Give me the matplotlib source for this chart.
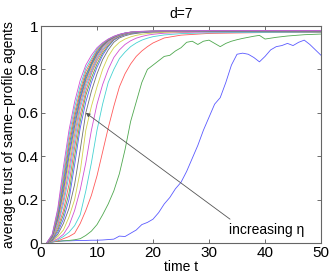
import matplotlib
matplotlib.use("Agg")
import matplotlib.pyplot as plt

plt.rcParams['font.family'] = ['Liberation Sans', 'DejaVu Sans']

# time axes
t_full = list(range(1, 51))
t_grid = [1, 2, 3, 4, 5, 6, 7, 8, 9, 10, 11, 12, 13, 14, 15, 16, 17, 18, 19, 20, 22, 25, 30, 40, 50]

# slowest two curves (noisy), sampled every time step
eta1 = [0.0, 0.005, 0.008, 0.01, 0.01, 0.011, 0.012, 0.012, 0.013, 0.013,
        0.014, 0.016, 0.018, 0.032, 0.03, 0.045, 0.06, 0.085, 0.095, 0.11,
        0.14, 0.18, 0.21, 0.25, 0.28, 0.33, 0.39, 0.45, 0.52, 0.58,
        0.64, 0.67, 0.74, 0.82, 0.87, 0.875, 0.87, 0.855, 0.835, 0.86,
        0.89, 0.905, 0.91, 0.92, 0.91, 0.925, 0.935, 0.915, 0.89, 0.865]
eta2 = [0.0, 0.005, 0.008, 0.01, 0.012, 0.015, 0.02, 0.035, 0.055, 0.085,
        0.13, 0.18, 0.24, 0.32, 0.43, 0.56, 0.65, 0.74, 0.80, 0.82,
        0.84, 0.86, 0.865, 0.885, 0.90, 0.925, 0.93, 0.915, 0.93, 0.935,
        0.92, 0.905, 0.92, 0.93, 0.937, 0.943, 0.948, 0.953, 0.957, 0.94,
        0.944, 0.948, 0.951, 0.954, 0.956, 0.958, 0.96, 0.961, 0.962, 0.963]

# faster curves, sampled on t_grid
eta3 = [0, .005, .01, .02, .03, .045, .09, .15, .22, .31, .42, .53, .63, .72, .78, .825, .86, .885, .905, .922, .945, .958, .966, .97, .97]
eta4 = [0, .005, .015, .03, .05, .08, .13, .24, .37, .52, .64, .74, .80, .85, .88, .905, .922, .935, .944, .951, .959, .965, .969, .971, .972]
eta5 = [0, .008, .02, .04, .08, .15, .245, .37, .52, .64, .73, .80, .855, .89, .915, .932, .944, .952, .958, .962, .967, .97, .973, .974, .974]
eta6 = [0, .01, .03, .06, .12, .20, .33, .52, .63, .72, .80, .86, .90, .925, .94, .95, .957, .962, .965, .968, .971, .973, .975, .975, .975]
eta7 = [0, .012, .04, .09, .16, .27, .43, .60, .70, .78, .845, .89, .925, .945, .955, .962, .966, .969, .971, .972, .974, .975, .976, .976, .976]
eta8 = [0, .015, .05, .11, .20, .36, .53, .65, .74, .81, .865, .905, .935, .95, .96, .966, .969, .971, .973, .974, .975, .976, .977, .977, .977]
eta9 = [0, .017, .06, .13, .23, .40, .56, .68, .76, .825, .875, .91, .938, .952, .962, .967, .97, .972, .974, .975, .976, .976, .977, .977, .977]
eta10 = [0, .019, .07, .15, .27, .44, .59, .70, .78, .84, .885, .917, .94, .954, .963, .968, .971, .973, .974, .975, .976, .977, .977, .977, .977]
eta11 = [0, .021, .08, .18, .31, .47, .62, .72, .79, .85, .893, .922, .943, .956, .964, .969, .971, .973, .975, .975, .976, .977, .978, .978, .978]
eta12 = [0, .023, .09, .20, .34, .50, .64, .735, .80, .858, .90, .926, .945, .957, .965, .97, .972, .974, .975, .976, .977, .977, .978, .978, .978]
eta13 = [0, .025, .10, .22, .37, .52, .655, .745, .81, .865, .905, .93, .947, .958, .966, .97, .972, .974, .975, .976, .977, .977, .978, .978, .978]
eta14 = [0, .027, .11, .24, .40, .54, .665, .755, .82, .87, .908, .932, .948, .959, .966, .971, .973, .974, .975, .976, .977, .978, .978, .978, .978]
eta15 = [0, .03, .12, .26, .42, .56, .675, .765, .825, .875, .911, .934, .949, .96, .967, .971, .973, .974, .975, .976, .977, .978, .978, .978, .978]
eta16 = [0, .033, .13, .28, .445, .58, .69, .775, .83, .882, .914, .936, .95, .96, .967, .971, .973, .975, .976, .976, .977, .978, .978, .978, .978]
eta17 = [0, .035, .14, .30, .47, .60, .705, .79, .84, .888, .917, .937, .951, .961, .967, .972, .974, .975, .976, .977, .977, .978, .979, .979, .979]
eta18 = [0, .038, .15, .32, .495, .625, .725, .805, .85, .894, .92, .939, .952, .961, .968, .972, .974, .975, .976, .977, .978, .978, .979, .979, .979]
eta19 = [0, .04, .16, .35, .52, .65, .75, .82, .865, .90, .923, .94, .953, .962, .968, .972, .974, .976, .976, .977, .978, .978, .979, .979, .979]

grid_series = [eta3, eta4, eta5, eta6, eta7, eta8, eta9, eta10, eta11, eta12,
               eta13, eta14, eta15, eta16, eta17, eta18, eta19]

# MATLAB-like colour order, as it looks on thin anti-aliased lines
line_colors = ['#5a5aff', '#4fa84f', '#ff5a5a', '#45d2d2',
               '#d24fd2', '#d2d24a', '#707070']

xticks = [0, 10, 20, 30, 40, 50]
yticks = [0, 0.2, 0.4, 0.6, 0.8, 1]
ytick_labels = ["0", "0.2", "0.4", "0.6", "0.8", "1"]

fig = plt.figure(figsize=(3.32, 2.74), dpi=100)
ax = fig.add_axes([0.1235, 0.113, 0.8435, 0.792])

lw = 0.6
ax.plot(t_full, eta1, color=line_colors[0], lw=lw)
ax.plot(t_full, eta2, color=line_colors[1], lw=lw)
for i, s in enumerate(grid_series):
    ax.plot(t_grid, s, color=line_colors[(i + 2) % 7], lw=lw)

ax.set_xlim(0, 50)
ax.set_ylim(0, 1)
ax.set_xticks(xticks)
ax.set_yticks(yticks)
ax.set_yticklabels(ytick_labels)
ax.tick_params(direction='in', length=3, width=0.6, top=True, right=True,
               labelsize=11, colors='#555555', labelcolor='black', pad=2)
for sp in ax.spines.values():
    sp.set_color('#666666')
    sp.set_linewidth(0.8)

ax.set_title("d=7", fontsize=10, pad=6)
ax.set_xlabel("time t", fontsize=10, labelpad=0)
ax.set_ylabel("average trust of same\u2212profile agents", fontsize=10, labelpad=1)

ax.annotate("", xy=(8.0, 0.60), xytext=(33.75, 0.11),
            arrowprops=dict(arrowstyle="-|>", color='#555555', lw=0.6,
                            mutation_scale=6, shrinkA=0, shrinkB=0))
ax.text(33.6, 0.062, "increasing \u03b7", fontsize=10, ha='left', va='center')

fig.savefig("out.png", dpi=100)
